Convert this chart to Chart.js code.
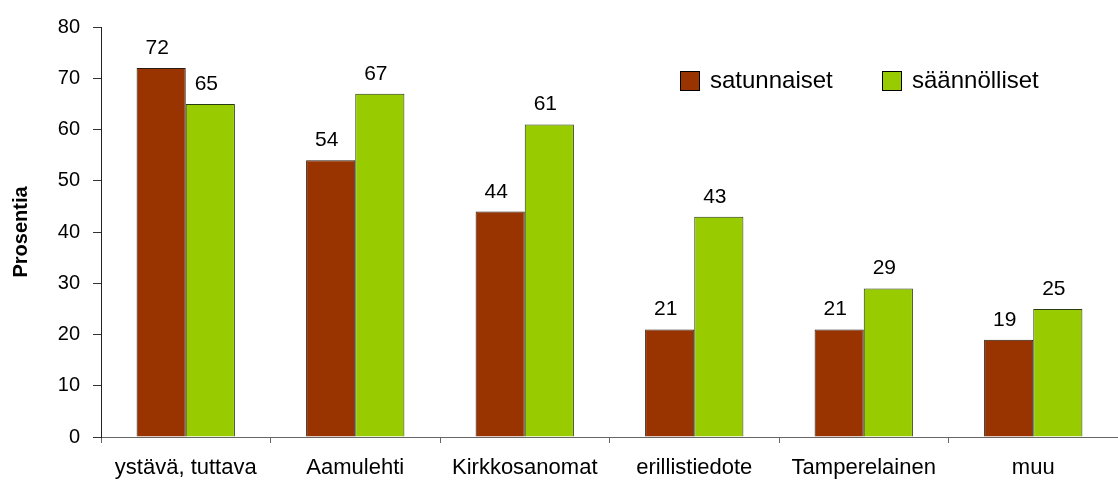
<!DOCTYPE html>
<html>
<head>
<meta charset="utf-8">
<script src="https://cdn.jsdelivr.net/npm/chart.js@4/dist/chart.umd.min.js"></script>
<style>
  html, body { margin: 0; padding: 0; background: #fff; }
  #wrap { width: 1118px; height: 481px; }
</style>
</head>
<body>
<div id="wrap"><canvas id="lahteet"></canvas></div>
<script>
// ---------- data ----------
const categories = ["ystävä, tuttava", "Aamulehti", "Kirkkosanomat", "erillistiedote", "Tamperelainen", "muu"];
const satunnaiset = [72, 54, 44, 21, 21, 19];
const saannolliset = [65, 67, 61, 43, 29, 25];
const seriesNames = ["satunnaiset", "säännölliset"];
const yTicks = [0, 10, 20, 30, 40, 50, 60, 70, 80];
const yTitle = "Prosentia";

const FONT = "'Liberation Sans', Arial, sans-serif";

// ---------- value labels above bars ----------
const valueLabels = {
  id: "valueLabels",
  afterDatasetsDraw(chart) {
    const ctx = chart.ctx;
    ctx.save();
    ctx.font = "21px " + FONT;
    ctx.fillStyle = "#000";
    ctx.textAlign = "center";
    ctx.textBaseline = "alphabetic";
    chart.data.datasets.forEach((ds, i) => {
      chart.getDatasetMeta(i).data.forEach((bar, j) => {
        ctx.fillText(ds.data[j], bar.x - 4, bar.y - 14);
      });
    });
    ctx.restore();
  },
};

// ---------- legend inside plot (top right) ----------
const legendInside = {
  id: "legendInside",
  afterDraw(chart) {
    const ctx = chart.ctx;
    const xs = [680, 882];
    const y = 71;
    ctx.save();
    ctx.font = "24px " + FONT;
    ctx.textBaseline = "middle";
    ctx.textAlign = "left";
    chart.data.datasets.forEach((ds, i) => {
      ctx.fillStyle = ds.backgroundColor;
      ctx.fillRect(xs[i], y, 20, 20);
      ctx.strokeStyle = "#000";
      ctx.lineWidth = 1;
      ctx.strokeRect(xs[i] + 0.5, y + 0.5, 19, 19);
      ctx.fillStyle = "#000";
      ctx.fillText(ds.label, xs[i] + 30, y + 10);
    });
    ctx.restore();
  },
};

const ctx = document.getElementById("lahteet").getContext("2d");
new Chart(ctx, {
  type: "bar",
  data: {
    labels: categories,
    datasets: [
      {
        label: seriesNames[0],
        data: satunnaiset,
        backgroundColor: "#993300",
        borderColor: "#2a1a10",
        borderWidth: 1,
      },
      {
        label: seriesNames[1],
        data: saannolliset,
        backgroundColor: "#99CC00",
        borderColor: "#2a3a10",
        borderWidth: 1,
      },
    ],
  },
  options: {
    responsive: true,
    maintainAspectRatio: false,
    animation: false,
    datasets: {
      bar: { categoryPercentage: 0.58, barPercentage: 1.0 },
    },
    layout: { padding: { top: 27, right: 0, bottom: 0, left: 0 } },
    plugins: {
      legend: { display: false },
      tooltip: { enabled: false },
    },
    scales: {
      x: {
        offset: true,
        grid: {
          offset: true,
          drawOnChartArea: false,
          drawTicks: true,
          tickLength: 6,
          color: "#666",
        },
        border: { color: "#666", width: 1 },
        ticks: {
          color: "#000",
          padding: 12,
          maxRotation: 0,
          autoSkip: false,
          font: { family: FONT, size: 22 },
        },
        afterFit(scale) {
          scale.height = 44;
        },
      },
      y: {
        min: 0,
        max: 80,
        afterBuildTicks(scale) {
          scale.ticks = yTicks.map((v) => ({ value: v }));
        },
        grid: {
          drawOnChartArea: false,
          drawTicks: true,
          tickLength: 8,
          color: "#333",
        },
        border: { color: "#222", width: 1 },
        ticks: {
          color: "#000",
          padding: 13,
          font: { family: FONT, size: 20 },
        },
        title: {
          display: true,
          text: yTitle,
          color: "#000",
          padding: { top: 9, bottom: 0 },
          font: { family: FONT, size: 20, weight: "bold" },
        },
        afterFit(scale) {
          scale.width = 101;
        },
      },
    },
  },
  plugins: [valueLabels, legendInside],
});
</script>
</body>
</html>
